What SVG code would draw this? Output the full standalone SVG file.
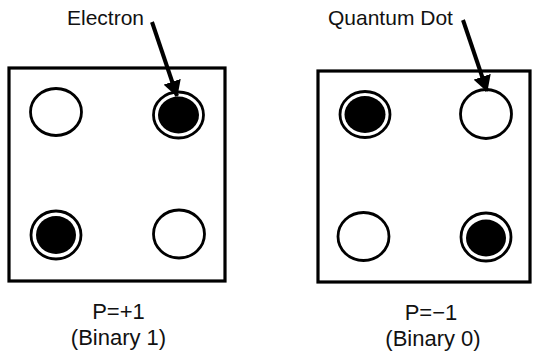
<svg xmlns="http://www.w3.org/2000/svg" width="533" height="354" viewBox="0 0 533 354">
<style>
.box{fill:none;stroke:#000;stroke-width:3.2}
.dot{fill:#fff;stroke:#000;stroke-width:2.8}
.e{fill:#000}
.t{font-family:"Liberation Sans",Arial,sans-serif;font-size:21px;fill:#111}
.c{text-anchor:middle;font-size:22px}
.arr{stroke:#000;stroke-width:4;fill:none;marker-end:url(#ah)}
</style>
<defs>
<marker id="ah" viewBox="0 0 16 18" refX="15" refY="9" markerWidth="16" markerHeight="18" markerUnits="userSpaceOnUse" orient="auto">
<path d="M0,0 L16,9 L0,18 z" fill="#000"/>
</marker>
</defs>
<rect width="533" height="354" fill="#fff"/>
<g id="cell-left">
<rect class="box" x="9" y="68" width="216" height="213"/>
<ellipse class="dot" cx="56" cy="112" rx="25.5" ry="23.5"/>
<ellipse class="dot" cx="178.5" cy="115" rx="25" ry="23"/>
<ellipse class="e" cx="178.5" cy="115" rx="20.5" ry="18.5"/>
<ellipse class="dot" cx="56" cy="235" rx="25" ry="24"/>
<ellipse class="e" cx="56" cy="235" rx="20" ry="19"/>
<ellipse class="dot" cx="179" cy="234" rx="25.5" ry="24"/>
</g>
<g id="cell-right">
<rect class="box" x="318" y="71" width="212" height="211"/>
<ellipse class="dot" cx="365" cy="114.5" rx="25" ry="23"/>
<ellipse class="e" cx="365" cy="114.5" rx="20.5" ry="18.5"/>
<ellipse class="dot" cx="486" cy="114" rx="25.5" ry="24.5"/>
<ellipse class="dot" cx="363.5" cy="236.5" rx="25.5" ry="24"/>
<ellipse class="dot" cx="486" cy="237" rx="25" ry="24"/>
<ellipse class="e" cx="486" cy="238" rx="20" ry="18.5"/>
</g>
<g id="label-electron"><text class="t" x="67" y="25">Electron</text></g>
<g id="label-qd"><text class="t" x="328" y="25">Quantum Dot</text></g>
<g id="label-left">
<text class="t c" x="118.5" y="319">P=+1</text>
<text class="t c" x="118.5" y="345">(Binary 1)</text>
</g>
<g id="label-right">
<text class="t c" x="431" y="320">P=−1</text>
<text class="t c" x="433" y="346">(Binary 0)</text>
</g>
<g id="connectors">
<line class="arr" x1="152" y1="22" x2="177" y2="96"/>
<line class="arr" x1="463" y1="20" x2="487" y2="91"/>
</g>
</svg>
